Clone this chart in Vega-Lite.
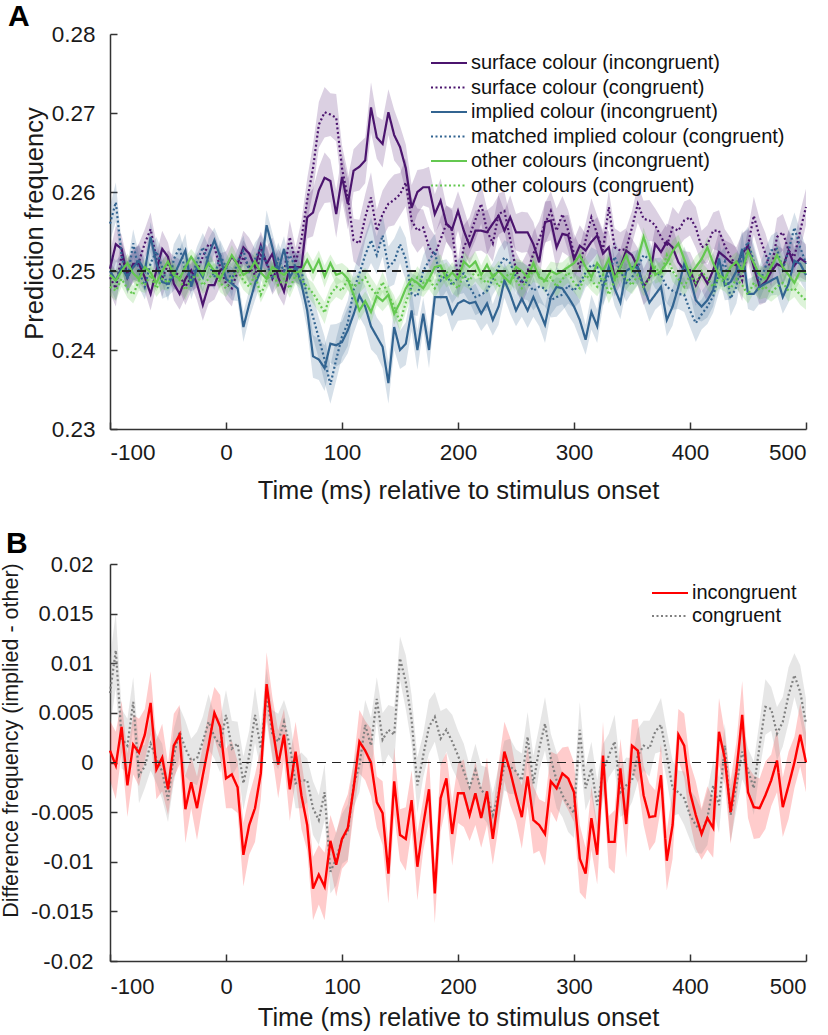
{
"$schema": "https://vega.github.io/schema/vega-lite/v6.json",
"background": "white",
"padding": {"left": 0, "top": 2, "right": 6, "bottom": 0},
"bounds": "flush",
"spacing": 135,
"config": {
  "font": "Liberation Sans",
  "view": {"stroke": null},
  "axis": {"labelFont": "Liberation Sans", "titleFont": "Liberation Sans", "labelFontSize": 22, "titleFontSize": 25.5, "titleFontWeight": "normal", "labelColor": "#1a1a1a", "titleColor": "#1a1a1a", "domainColor": "#333", "domainWidth": 1.5, "tickColor": "#333", "tickWidth": 1.5, "tickSize": -7, "grid": false},
  "legend": {"labelFont": "Liberation Sans", "labelFontSize": 20, "labelColor": "#111", "labelLimit": 0, "symbolType": "M-3,0H3", "symbolSize": 144, "symbolStrokeWidth": 2.2, "symbolOffset": 12, "labelOffset": 12, "rowPadding": 4.5, "padding": 0}
},
"resolve": {"scale": {"color": "independent", "strokeDash": "independent"}},
"datasets": {
"a": [
{"t":-100,"si":0.2503,"sc":0.2492,"ii":0.2500,"ic":0.2560,"oi":0.2495,"oc":0.2480,"p":0.0020,"b":0.0022,"g":0.0011},
{"t":-95,"si":0.2534,"sc":0.2478,"ii":0.2488,"ic":0.2587,"oi":0.2488,"oc":0.2475,"p":0.0023,"b":0.0025,"g":0.0013},
{"t":-90,"si":0.2528,"sc":0.2520,"ii":0.2505,"ic":0.2520,"oi":0.2500,"oc":0.2490,"p":0.0018,"b":0.0016,"g":0.0010},
{"t":-85,"si":0.2492,"sc":0.2495,"ii":0.2492,"ic":0.2490,"oi":0.2510,"oc":0.2478,"p":0.0021,"b":0.0019,"g":0.0012},
{"t":-80,"si":0.2509,"sc":0.2505,"ii":0.2505,"ic":0.2535,"oi":0.2497,"oc":0.2470,"p":0.0020,"b":0.0018,"g":0.0011},
{"t":-75,"si":0.2509,"sc":0.2512,"ii":0.2513,"ic":0.2500,"oi":0.2490,"oc":0.2488,"p":0.0023,"b":0.0021,"g":0.0013},
{"t":-70,"si":0.2492,"sc":0.2535,"ii":0.2500,"ic":0.2480,"oi":0.2505,"oc":0.2482,"p":0.0018,"b":0.0016,"g":0.0010},
{"t":-65,"si":0.2471,"sc":0.2553,"ii":0.2543,"ic":0.2510,"oi":0.2498,"oc":0.2495,"p":0.0021,"b":0.0019,"g":0.0012},
{"t":-60,"si":0.2501,"sc":0.2515,"ii":0.2510,"ic":0.2525,"oi":0.2485,"oc":0.2478,"p":0.0020,"b":0.0018,"g":0.0011},
{"t":-55,"si":0.2528,"sc":0.2490,"ii":0.2486,"ic":0.2505,"oi":0.2500,"oc":0.2490,"p":0.0023,"b":0.0021,"g":0.0013},
{"t":-50,"si":0.2518,"sc":0.2508,"ii":0.2484,"ic":0.2478,"oi":0.2512,"oc":0.2485,"p":0.0018,"b":0.0016,"g":0.0010},
{"t":-45,"si":0.2484,"sc":0.2498,"ii":0.2494,"ic":0.2515,"oi":0.2495,"oc":0.2500,"p":0.0021,"b":0.0019,"g":0.0012},
{"t":-40,"si":0.2471,"sc":0.2495,"ii":0.2510,"ic":0.2530,"oi":0.2490,"oc":0.2488,"p":0.0020,"b":0.0018,"g":0.0011},
{"t":-35,"si":0.2490,"sc":0.2480,"ii":0.2526,"ic":0.2500,"oi":0.2505,"oc":0.2476,"p":0.0023,"b":0.0021,"g":0.0013},
{"t":-30,"si":0.2501,"sc":0.2492,"ii":0.2480,"ic":0.2490,"oi":0.2518,"oc":0.2490,"p":0.0018,"b":0.0016,"g":0.0010},
{"t":-25,"si":0.2484,"sc":0.2500,"ii":0.2505,"ic":0.2512,"oi":0.2507,"oc":0.2495,"p":0.0021,"b":0.0019,"g":0.0012},
{"t":-20,"si":0.2457,"sc":0.2518,"ii":0.2492,"ic":0.2530,"oi":0.2495,"oc":0.2482,"p":0.0020,"b":0.0018,"g":0.0011},
{"t":-15,"si":0.2482,"sc":0.2534,"ii":0.2520,"ic":0.2510,"oi":0.2510,"oc":0.2490,"p":0.0023,"b":0.0021,"g":0.0013},
{"t":-10,"si":0.2482,"sc":0.2530,"ii":0.2539,"ic":0.2492,"oi":0.2500,"oc":0.2500,"p":0.0018,"b":0.0016,"g":0.0010},
{"t":-5,"si":0.2501,"sc":0.2505,"ii":0.2518,"ic":0.2520,"oi":0.2490,"oc":0.2485,"p":0.0021,"b":0.0019,"g":0.0012},
{"t":0,"si":0.2505,"sc":0.2484,"ii":0.2490,"ic":0.2505,"oi":0.2505,"oc":0.2478,"p":0.0020,"b":0.0018,"g":0.0011},
{"t":5,"si":0.2518,"sc":0.2478,"ii":0.2484,"ic":0.2488,"oi":0.2520,"oc":0.2492,"p":0.0023,"b":0.0021,"g":0.0013},
{"t":10,"si":0.2509,"sc":0.2500,"ii":0.2478,"ic":0.2512,"oi":0.2508,"oc":0.2500,"p":0.0018,"b":0.0016,"g":0.0010},
{"t":15,"si":0.2530,"sc":0.2518,"ii":0.2429,"ic":0.2526,"oi":0.2495,"oc":0.2488,"p":0.0021,"b":0.0019,"g":0.0012},
{"t":20,"si":0.2522,"sc":0.2505,"ii":0.2458,"ic":0.2500,"oi":0.2500,"oc":0.2480,"p":0.0020,"b":0.0018,"g":0.0011},
{"t":25,"si":0.2505,"sc":0.2495,"ii":0.2484,"ic":0.2515,"oi":0.2512,"oc":0.2495,"p":0.0023,"b":0.0021,"g":0.0013},
{"t":30,"si":0.2532,"sc":0.2520,"ii":0.2500,"ic":0.2530,"oi":0.2498,"oc":0.2470,"p":0.0018,"b":0.0016,"g":0.0010},
{"t":35,"si":0.2509,"sc":0.2512,"ii":0.2558,"ic":0.2510,"oi":0.2490,"oc":0.2488,"p":0.0021,"b":0.0019,"g":0.0012},
{"t":40,"si":0.2522,"sc":0.2490,"ii":0.2530,"ic":0.2490,"oi":0.2505,"oc":0.2500,"p":0.0020,"b":0.0018,"g":0.0011},
{"t":45,"si":0.2492,"sc":0.2505,"ii":0.2500,"ic":0.2515,"oi":0.2500,"oc":0.2482,"p":0.0023,"b":0.0021,"g":0.0013},
{"t":50,"si":0.2474,"sc":0.2498,"ii":0.2528,"ic":0.2500,"oi":0.2495,"oc":0.2490,"p":0.0018,"b":0.0016,"g":0.0010},
{"t":55,"si":0.2505,"sc":0.2543,"ii":0.2492,"ic":0.2520,"oi":0.2502,"oc":0.2478,"p":0.0021,"b":0.0019,"g":0.0012},
{"t":60,"si":0.2505,"sc":0.2510,"ii":0.2505,"ic":0.2505,"oi":0.2498,"oc":0.2495,"p":0.0020,"b":0.0018,"g":0.0011},
{"t":65,"si":0.2505,"sc":0.2540,"ii":0.2484,"ic":0.2500,"oi":0.2500,"oc":0.2489,"p":0.0023,"b":0.0021,"g":0.0013},
{"t":70,"si":0.2568,"sc":0.2590,"ii":0.2450,"ic":0.2468,"oi":0.2514,"oc":0.2480,"p":0.0027,"b":0.0024,"g":0.0011},
{"t":75,"si":0.2574,"sc":0.2630,"ii":0.2392,"ic":0.2442,"oi":0.2499,"oc":0.2472,"p":0.0030,"b":0.0027,"g":0.0013},
{"t":80,"si":0.2602,"sc":0.2685,"ii":0.2388,"ic":0.2415,"oi":0.2514,"oc":0.2460,"p":0.0029,"b":0.0026,"g":0.0012},
{"t":85,"si":0.2618,"sc":0.2701,"ii":0.2377,"ic":0.2388,"oi":0.2493,"oc":0.2447,"p":0.0032,"b":0.0029,"g":0.0014},
{"t":90,"si":0.2614,"sc":0.2698,"ii":0.2408,"ic":0.2356,"oi":0.2510,"oc":0.2470,"p":0.0027,"b":0.0024,"g":0.0011},
{"t":95,"si":0.2572,"sc":0.2694,"ii":0.2406,"ic":0.2388,"oi":0.2495,"oc":0.2480,"p":0.0030,"b":0.0027,"g":0.0013},
{"t":100,"si":0.2619,"sc":0.2630,"ii":0.2410,"ic":0.2417,"oi":0.2498,"oc":0.2475,"p":0.0029,"b":0.0026,"g":0.0012},
{"t":105,"si":0.2585,"sc":0.2593,"ii":0.2425,"ic":0.2434,"oi":0.2490,"oc":0.2490,"p":0.0032,"b":0.0029,"g":0.0014},
{"t":110,"si":0.2627,"sc":0.2539,"ii":0.2445,"ic":0.2476,"oi":0.2470,"oc":0.2480,"p":0.0027,"b":0.0024,"g":0.0011},
{"t":115,"si":0.2632,"sc":0.2535,"ii":0.2469,"ic":0.2497,"oi":0.2450,"oc":0.2485,"p":0.0030,"b":0.0027,"g":0.0013},
{"t":120,"si":0.2640,"sc":0.2568,"ii":0.2455,"ic":0.2520,"oi":0.2462,"oc":0.2492,"p":0.0029,"b":0.0026,"g":0.0012},
{"t":125,"si":0.2707,"sc":0.2593,"ii":0.2430,"ic":0.2539,"oi":0.2448,"oc":0.2478,"p":0.0032,"b":0.0029,"g":0.0014},
{"t":130,"si":0.2669,"sc":0.2551,"ii":0.2417,"ic":0.2520,"oi":0.2468,"oc":0.2470,"p":0.0027,"b":0.0024,"g":0.0011},
{"t":135,"si":0.2661,"sc":0.2572,"ii":0.2404,"ic":0.2545,"oi":0.2462,"oc":0.2486,"p":0.0030,"b":0.0027,"g":0.0013},
{"t":140,"si":0.2701,"sc":0.2585,"ii":0.2358,"ic":0.2505,"oi":0.2470,"oc":0.2470,"p":0.0029,"b":0.0026,"g":0.0012},
{"t":145,"si":0.2672,"sc":0.2590,"ii":0.2429,"ic":0.2512,"oi":0.2446,"oc":0.2455,"p":0.0032,"b":0.0029,"g":0.0014},
{"t":150,"si":0.2657,"sc":0.2597,"ii":0.2400,"ic":0.2534,"oi":0.2460,"oc":0.2435,"p":0.0027,"b":0.0024,"g":0.0011},
{"t":155,"si":0.2630,"sc":0.2612,"ii":0.2408,"ic":0.2515,"oi":0.2478,"oc":0.2460,"p":0.0030,"b":0.0027,"g":0.0013},
{"t":160,"si":0.2580,"sc":0.2564,"ii":0.2450,"ic":0.2471,"oi":0.2490,"oc":0.2480,"p":0.0029,"b":0.0026,"g":0.0012},
{"t":165,"si":0.2600,"sc":0.2551,"ii":0.2400,"ic":0.2468,"oi":0.2485,"oc":0.2492,"p":0.0028,"b":0.0025,"g":0.0014},
{"t":170,"si":0.2606,"sc":0.2555,"ii":0.2446,"ic":0.2500,"oi":0.2478,"oc":0.2485,"p":0.0023,"b":0.0020,"g":0.0011},
{"t":175,"si":0.2606,"sc":0.2530,"ii":0.2400,"ic":0.2513,"oi":0.2490,"oc":0.2490,"p":0.0026,"b":0.0023,"g":0.0013},
{"t":180,"si":0.2572,"sc":0.2520,"ii":0.2467,"ic":0.2525,"oi":0.2505,"oc":0.2478,"p":0.0025,"b":0.0022,"g":0.0012},
{"t":185,"si":0.2589,"sc":0.2540,"ii":0.2467,"ic":0.2488,"oi":0.2507,"oc":0.2492,"p":0.0028,"b":0.0025,"g":0.0014},
{"t":190,"si":0.2560,"sc":0.2560,"ii":0.2467,"ic":0.2495,"oi":0.2490,"oc":0.2500,"p":0.0023,"b":0.0020,"g":0.0011},
{"t":195,"si":0.2553,"sc":0.2551,"ii":0.2446,"ic":0.2482,"oi":0.2498,"oc":0.2485,"p":0.0026,"b":0.0023,"g":0.0013},
{"t":200,"si":0.2576,"sc":0.2490,"ii":0.2459,"ic":0.2492,"oi":0.2490,"oc":0.2478,"p":0.0025,"b":0.0022,"g":0.0012},
{"t":205,"si":0.2551,"sc":0.2530,"ii":0.2463,"ic":0.2497,"oi":0.2512,"oc":0.2495,"p":0.0028,"b":0.0025,"g":0.0014},
{"t":210,"si":0.2532,"sc":0.2545,"ii":0.2459,"ic":0.2480,"oi":0.2505,"oc":0.2488,"p":0.0023,"b":0.0020,"g":0.0011},
{"t":215,"si":0.2551,"sc":0.2565,"ii":0.2461,"ic":0.2467,"oi":0.2512,"oc":0.2500,"p":0.0026,"b":0.0023,"g":0.0013},
{"t":220,"si":0.2551,"sc":0.2585,"ii":0.2446,"ic":0.2470,"oi":0.2495,"oc":0.2490,"p":0.0025,"b":0.0022,"g":0.0012},
{"t":225,"si":0.2549,"sc":0.2551,"ii":0.2459,"ic":0.2475,"oi":0.2508,"oc":0.2485,"p":0.0028,"b":0.0025,"g":0.0014},
{"t":230,"si":0.2560,"sc":0.2535,"ii":0.2438,"ic":0.2490,"oi":0.2492,"oc":0.2495,"p":0.0023,"b":0.0020,"g":0.0011},
{"t":235,"si":0.2570,"sc":0.2572,"ii":0.2455,"ic":0.2505,"oi":0.2500,"oc":0.2480,"p":0.0026,"b":0.0023,"g":0.0013},
{"t":240,"si":0.2551,"sc":0.2576,"ii":0.2488,"ic":0.2517,"oi":0.2492,"oc":0.2492,"p":0.0025,"b":0.0022,"g":0.0012},
{"t":245,"si":0.2568,"sc":0.2540,"ii":0.2471,"ic":0.2510,"oi":0.2485,"oc":0.2497,"p":0.0028,"b":0.0025,"g":0.0014},
{"t":250,"si":0.2549,"sc":0.2501,"ii":0.2450,"ic":0.2492,"oi":0.2505,"oc":0.2488,"p":0.0023,"b":0.0020,"g":0.0011},
{"t":255,"si":0.2549,"sc":0.2484,"ii":0.2465,"ic":0.2488,"oi":0.2500,"oc":0.2478,"p":0.0026,"b":0.0023,"g":0.0013},
{"t":260,"si":0.2549,"sc":0.2500,"ii":0.2450,"ic":0.2485,"oi":0.2492,"oc":0.2490,"p":0.0025,"b":0.0022,"g":0.0012},
{"t":265,"si":0.2534,"sc":0.2522,"ii":0.2467,"ic":0.2475,"oi":0.2510,"oc":0.2500,"p":0.0028,"b":0.0025,"g":0.0014},
{"t":270,"si":0.2511,"sc":0.2540,"ii":0.2450,"ic":0.2480,"oi":0.2492,"oc":0.2495,"p":0.0023,"b":0.0020,"g":0.0011},
{"t":275,"si":0.2562,"sc":0.2560,"ii":0.2432,"ic":0.2478,"oi":0.2488,"oc":0.2485,"p":0.0026,"b":0.0023,"g":0.0013},
{"t":280,"si":0.2564,"sc":0.2576,"ii":0.2467,"ic":0.2463,"oi":0.2500,"oc":0.2492,"p":0.0025,"b":0.0022,"g":0.0012},
{"t":285,"si":0.2530,"sc":0.2551,"ii":0.2480,"ic":0.2467,"oi":0.2496,"oc":0.2480,"p":0.0028,"b":0.0025,"g":0.0014},
{"t":290,"si":0.2547,"sc":0.2572,"ii":0.2478,"ic":0.2470,"oi":0.2500,"oc":0.2490,"p":0.0023,"b":0.0020,"g":0.0011},
{"t":295,"si":0.2545,"sc":0.2551,"ii":0.2467,"ic":0.2482,"oi":0.2505,"oc":0.2498,"p":0.0026,"b":0.0023,"g":0.0013},
{"t":300,"si":0.2515,"sc":0.2522,"ii":0.2455,"ic":0.2475,"oi":0.2510,"oc":0.2485,"p":0.0025,"b":0.0022,"g":0.0012},
{"t":305,"si":0.2532,"sc":0.2505,"ii":0.2438,"ic":0.2485,"oi":0.2520,"oc":0.2478,"p":0.0026,"b":0.0024,"g":0.0014},
{"t":310,"si":0.2526,"sc":0.2539,"ii":0.2413,"ic":0.2498,"oi":0.2505,"oc":0.2495,"p":0.0021,"b":0.0019,"g":0.0011},
{"t":315,"si":0.2537,"sc":0.2568,"ii":0.2448,"ic":0.2508,"oi":0.2492,"oc":0.2488,"p":0.0024,"b":0.0022,"g":0.0013},
{"t":320,"si":0.2545,"sc":0.2547,"ii":0.2430,"ic":0.2505,"oi":0.2510,"oc":0.2480,"p":0.0023,"b":0.0021,"g":0.0012},
{"t":325,"si":0.2522,"sc":0.2526,"ii":0.2480,"ic":0.2480,"oi":0.2500,"oc":0.2495,"p":0.0026,"b":0.0024,"g":0.0014},
{"t":330,"si":0.2530,"sc":0.2581,"ii":0.2505,"ic":0.2495,"oi":0.2515,"oc":0.2470,"p":0.0021,"b":0.0019,"g":0.0011},
{"t":335,"si":0.2492,"sc":0.2530,"ii":0.2478,"ic":0.2518,"oi":0.2490,"oc":0.2488,"p":0.0024,"b":0.0022,"g":0.0013},
{"t":340,"si":0.2505,"sc":0.2526,"ii":0.2460,"ic":0.2500,"oi":0.2505,"oc":0.2500,"p":0.0023,"b":0.0021,"g":0.0012},
{"t":345,"si":0.2526,"sc":0.2528,"ii":0.2500,"ic":0.2485,"oi":0.2520,"oc":0.2490,"p":0.0026,"b":0.0024,"g":0.0014},
{"t":350,"si":0.2520,"sc":0.2555,"ii":0.2505,"ic":0.2492,"oi":0.2500,"oc":0.2482,"p":0.0021,"b":0.0019,"g":0.0011},
{"t":355,"si":0.2505,"sc":0.2585,"ii":0.2505,"ic":0.2505,"oi":0.2515,"oc":0.2495,"p":0.0024,"b":0.0022,"g":0.0013},
{"t":360,"si":0.2480,"sc":0.2566,"ii":0.2480,"ic":0.2520,"oi":0.2543,"oc":0.2480,"p":0.0023,"b":0.0021,"g":0.0012},
{"t":365,"si":0.2492,"sc":0.2564,"ii":0.2460,"ic":0.2515,"oi":0.2520,"oc":0.2490,"p":0.0026,"b":0.0024,"g":0.0014},
{"t":370,"si":0.2534,"sc":0.2558,"ii":0.2470,"ic":0.2497,"oi":0.2495,"oc":0.2505,"p":0.0021,"b":0.0019,"g":0.0011},
{"t":375,"si":0.2524,"sc":0.2543,"ii":0.2480,"ic":0.2495,"oi":0.2500,"oc":0.2495,"p":0.0024,"b":0.0022,"g":0.0013},
{"t":380,"si":0.2537,"sc":0.2532,"ii":0.2438,"ic":0.2480,"oi":0.2510,"oc":0.2520,"p":0.0023,"b":0.0021,"g":0.0012},
{"t":385,"si":0.2530,"sc":0.2555,"ii":0.2455,"ic":0.2475,"oi":0.2525,"oc":0.2500,"p":0.0026,"b":0.0024,"g":0.0014},
{"t":390,"si":0.2511,"sc":0.2551,"ii":0.2480,"ic":0.2471,"oi":0.2535,"oc":0.2490,"p":0.0021,"b":0.0019,"g":0.0011},
{"t":395,"si":0.2501,"sc":0.2564,"ii":0.2509,"ic":0.2470,"oi":0.2515,"oc":0.2480,"p":0.0024,"b":0.0022,"g":0.0013},
{"t":400,"si":0.2501,"sc":0.2568,"ii":0.2492,"ic":0.2450,"oi":0.2495,"oc":0.2495,"p":0.0023,"b":0.0021,"g":0.0012},
{"t":405,"si":0.2482,"sc":0.2555,"ii":0.2463,"ic":0.2434,"oi":0.2505,"oc":0.2485,"p":0.0026,"b":0.0024,"g":0.0014},
{"t":410,"si":0.2497,"sc":0.2530,"ii":0.2455,"ic":0.2445,"oi":0.2515,"oc":0.2500,"p":0.0021,"b":0.0019,"g":0.0011},
{"t":415,"si":0.2484,"sc":0.2534,"ii":0.2463,"ic":0.2455,"oi":0.2530,"oc":0.2490,"p":0.0024,"b":0.0022,"g":0.0013},
{"t":420,"si":0.2501,"sc":0.2551,"ii":0.2476,"ic":0.2468,"oi":0.2510,"oc":0.2480,"p":0.0023,"b":0.0021,"g":0.0012},
{"t":425,"si":0.2524,"sc":0.2551,"ii":0.2516,"ic":0.2497,"oi":0.2495,"oc":0.2492,"p":0.0026,"b":0.0024,"g":0.0014},
{"t":430,"si":0.2518,"sc":0.2532,"ii":0.2482,"ic":0.2512,"oi":0.2490,"oc":0.2485,"p":0.0021,"b":0.0019,"g":0.0011},
{"t":435,"si":0.2511,"sc":0.2518,"ii":0.2486,"ic":0.2465,"oi":0.2505,"oc":0.2478,"p":0.0024,"b":0.0022,"g":0.0013},
{"t":440,"si":0.2507,"sc":0.2505,"ii":0.2500,"ic":0.2480,"oi":0.2512,"oc":0.2490,"p":0.0023,"b":0.0021,"g":0.0012},
{"t":445,"si":0.2522,"sc":0.2488,"ii":0.2528,"ic":0.2522,"oi":0.2500,"oc":0.2482,"p":0.0026,"b":0.0024,"g":0.0014},
{"t":450,"si":0.2532,"sc":0.2532,"ii":0.2471,"ic":0.2537,"oi":0.2525,"oc":0.2470,"p":0.0021,"b":0.0019,"g":0.0011},
{"t":455,"si":0.2505,"sc":0.2570,"ii":0.2471,"ic":0.2512,"oi":0.2510,"oc":0.2485,"p":0.0024,"b":0.0022,"g":0.0013},
{"t":460,"si":0.2480,"sc":0.2543,"ii":0.2480,"ic":0.2485,"oi":0.2495,"oc":0.2476,"p":0.0023,"b":0.0021,"g":0.0012},
{"t":465,"si":0.2486,"sc":0.2522,"ii":0.2484,"ic":0.2505,"oi":0.2490,"oc":0.2480,"p":0.0026,"b":0.0024,"g":0.0014},
{"t":470,"si":0.2499,"sc":0.2501,"ii":0.2488,"ic":0.2526,"oi":0.2505,"oc":0.2472,"p":0.0021,"b":0.0019,"g":0.0011},
{"t":475,"si":0.2509,"sc":0.2543,"ii":0.2492,"ic":0.2528,"oi":0.2520,"oc":0.2480,"p":0.0024,"b":0.0022,"g":0.0013},
{"t":480,"si":0.2505,"sc":0.2549,"ii":0.2467,"ic":0.2502,"oi":0.2505,"oc":0.2485,"p":0.0023,"b":0.0021,"g":0.0012},
{"t":485,"si":0.2526,"sc":0.2526,"ii":0.2484,"ic":0.2526,"oi":0.2495,"oc":0.2475,"p":0.0026,"b":0.0024,"g":0.0014},
{"t":490,"si":0.2507,"sc":0.2518,"ii":0.2513,"ic":0.2555,"oi":0.2485,"oc":0.2478,"p":0.0021,"b":0.0019,"g":0.0011},
{"t":495,"si":0.2516,"sc":0.2551,"ii":0.2509,"ic":0.2530,"oi":0.2500,"oc":0.2470,"p":0.0024,"b":0.0022,"g":0.0013},
{"t":500,"si":0.2511,"sc":0.2581,"ii":0.2495,"ic":0.2509,"oi":0.2498,"oc":0.2463,"p":0.0023,"b":0.0021,"g":0.0012}
],
"b": [
{"t":-100,"r":0.0012,"c":0.0070,"er":0.0030,"ec":0.0035},
{"t":-95,"r":-0.0003,"c":0.0113,"er":0.0034,"ec":0.0038},
{"t":-90,"r":0.0036,"c":0.0024,"er":0.0026,"ec":0.0030},
{"t":-85,"r":-0.0023,"c":0.0017,"er":0.0032,"ec":0.0027},
{"t":-80,"r":0.0018,"c":0.0061,"er":0.0030,"ec":0.0025},
{"t":-75,"r":0.0010,"c":-0.0013,"er":0.0034,"ec":0.0028},
{"t":-70,"r":0.0028,"c":-0.0004,"er":0.0026,"ec":0.0022},
{"t":-65,"r":0.0060,"c":0.0019,"er":0.0032,"ec":0.0027},
{"t":-60,"r":-0.0007,"c":0.0004,"er":0.0030,"ec":0.0025},
{"t":-55,"r":0.0005,"c":-0.0009,"er":0.0034,"ec":0.0028},
{"t":-50,"r":-0.0027,"c":-0.0038,"er":0.0026,"ec":0.0022},
{"t":-45,"r":0.0017,"c":0.0007,"er":0.0032,"ec":0.0027},
{"t":-40,"r":0.0028,"c":0.0031,"er":0.0030,"ec":0.0025},
{"t":-35,"r":-0.0047,"c":0.0014,"er":0.0034,"ec":0.0028},
{"t":-30,"r":-0.0020,"c":0.0002,"er":0.0026,"ec":0.0022},
{"t":-25,"r":-0.0046,"c":0.0004,"er":0.0032,"ec":0.0027},
{"t":-20,"r":-0.0013,"c":0.0021,"er":0.0030,"ec":0.0025},
{"t":-15,"r":0.0017,"c":0.0041,"er":0.0034,"ec":0.0028},
{"t":-10,"r":0.0050,"c":0.0026,"er":0.0026,"ec":0.0022},
{"t":-5,"r":0.0036,"c":0.0017,"er":0.0032,"ec":0.0027},
{"t":0,"r":-0.0016,"c":0.0048,"er":0.0030,"ec":0.0025},
{"t":5,"r":-0.0012,"c":0.0014,"er":0.0034,"ec":0.0028},
{"t":10,"r":-0.0025,"c":0.0019,"er":0.0026,"ec":0.0022},
{"t":15,"r":-0.0093,"c":-0.0021,"er":0.0032,"ec":0.0027},
{"t":20,"r":-0.0063,"c":0.0007,"er":0.0030,"ec":0.0025},
{"t":25,"r":-0.0046,"c":0.0048,"er":0.0034,"ec":0.0028},
{"t":30,"r":-0.0011,"c":0.0014,"er":0.0026,"ec":0.0022},
{"t":35,"r":0.0079,"c":0.0068,"er":0.0032,"ec":0.0027},
{"t":40,"r":0.0036,"c":0.0028,"er":0.0030,"ec":0.0025},
{"t":45,"r":-0.0002,"c":0.0021,"er":0.0034,"ec":0.0028},
{"t":50,"r":0.0028,"c":0.0041,"er":0.0026,"ec":0.0022},
{"t":55,"r":-0.0027,"c":0.0017,"er":0.0032,"ec":0.0027},
{"t":60,"r":0.0011,"c":-0.0021,"er":0.0030,"ec":0.0025},
{"t":65,"r":-0.0033,"c":-0.0018,"er":0.0034,"ec":0.0028},
{"t":70,"r":-0.0063,"c":-0.0018,"er":0.0026,"ec":0.0022},
{"t":75,"r":-0.0127,"c":-0.0046,"er":0.0032,"ec":0.0027},
{"t":80,"r":-0.0113,"c":-0.0058,"er":0.0030,"ec":0.0025},
{"t":85,"r":-0.0125,"c":-0.0030,"er":0.0034,"ec":0.0028},
{"t":90,"r":-0.0079,"c":-0.0110,"er":0.0026,"ec":0.0022},
{"t":95,"r":-0.0103,"c":-0.0097,"er":0.0032,"ec":0.0027},
{"t":100,"r":-0.0077,"c":-0.0077,"er":0.0030,"ec":0.0025},
{"t":105,"r":-0.0066,"c":-0.0070,"er":0.0034,"ec":0.0028},
{"t":110,"r":-0.0026,"c":-0.0023,"er":0.0026,"ec":0.0022},
{"t":115,"r":0.0021,"c":-0.0003,"er":0.0032,"ec":0.0027},
{"t":120,"r":0.0012,"c":0.0038,"er":0.0030,"ec":0.0025},
{"t":125,"r":0.0000,"c":0.0017,"er":0.0034,"ec":0.0028},
{"t":130,"r":-0.0040,"c":0.0064,"er":0.0026,"ec":0.0022},
{"t":135,"r":-0.0051,"c":0.0023,"er":0.0032,"ec":0.0027},
{"t":140,"r":-0.0112,"c":0.0033,"er":0.0030,"ec":0.0025},
{"t":145,"r":-0.0019,"c":0.0028,"er":0.0034,"ec":0.0028},
{"t":150,"r":-0.0073,"c":0.0105,"er":0.0026,"ec":0.0022},
{"t":155,"r":-0.0077,"c":0.0081,"er":0.0032,"ec":0.0027},
{"t":160,"r":-0.0038,"c":0.0043,"er":0.0030,"ec":0.0025},
{"t":165,"r":-0.0105,"c":-0.0023,"er":0.0034,"ec":0.0028},
{"t":170,"r":-0.0063,"c":0.0007,"er":0.0026,"ec":0.0022},
{"t":175,"r":-0.0027,"c":0.0036,"er":0.0032,"ec":0.0027},
{"t":180,"r":-0.0132,"c":0.0046,"er":0.0030,"ec":0.0025},
{"t":185,"r":-0.0036,"c":0.0024,"er":0.0034,"ec":0.0028},
{"t":190,"r":-0.0016,"c":0.0033,"er":0.0026,"ec":0.0022},
{"t":195,"r":-0.0072,"c":0.0021,"er":0.0032,"ec":0.0027},
{"t":200,"r":-0.0031,"c":0.0007,"er":0.0030,"ec":0.0025},
{"t":205,"r":-0.0031,"c":-0.0009,"er":0.0034,"ec":0.0028},
{"t":210,"r":-0.0053,"c":-0.0025,"er":0.0026,"ec":0.0022},
{"t":215,"r":-0.0031,"c":-0.0008,"er":0.0032,"ec":0.0027},
{"t":220,"r":-0.0056,"c":-0.0028,"er":0.0030,"ec":0.0025},
{"t":225,"r":-0.0029,"c":-0.0033,"er":0.0034,"ec":0.0028},
{"t":230,"r":-0.0077,"c":-0.0053,"er":0.0026,"ec":0.0022},
{"t":235,"r":-0.0033,"c":-0.0031,"er":0.0032,"ec":0.0027},
{"t":240,"r":0.0011,"c":-0.0003,"er":0.0030,"ec":0.0025},
{"t":245,"r":-0.0009,"c":-0.0004,"er":0.0034,"ec":0.0028},
{"t":250,"r":-0.0033,"c":-0.0009,"er":0.0026,"ec":0.0022},
{"t":255,"r":-0.0055,"c":-0.0018,"er":0.0032,"ec":0.0027},
{"t":260,"r":-0.0014,"c":0.0026,"er":0.0030,"ec":0.0025},
{"t":265,"r":-0.0058,"c":-0.0021,"er":0.0034,"ec":0.0028},
{"t":270,"r":-0.0063,"c":0.0014,"er":0.0026,"ec":0.0022},
{"t":275,"r":-0.0072,"c":0.0039,"er":0.0032,"ec":0.0027},
{"t":280,"r":-0.0019,"c":0.0004,"er":0.0030,"ec":0.0025},
{"t":285,"r":-0.0026,"c":-0.0018,"er":0.0034,"ec":0.0028},
{"t":290,"r":-0.0011,"c":-0.0033,"er":0.0026,"ec":0.0022},
{"t":295,"r":-0.0016,"c":-0.0043,"er":0.0032,"ec":0.0027},
{"t":300,"r":-0.0030,"c":-0.0051,"er":0.0030,"ec":0.0025},
{"t":305,"r":-0.0097,"c":0.0033,"er":0.0034,"ec":0.0028},
{"t":310,"r":-0.0112,"c":-0.0026,"er":0.0026,"ec":0.0022},
{"t":315,"r":-0.0056,"c":-0.0006,"er":0.0032,"ec":0.0027},
{"t":320,"r":-0.0093,"c":-0.0043,"er":0.0030,"ec":0.0025},
{"t":325,"r":0.0007,"c":-0.0009,"er":0.0034,"ec":0.0028},
{"t":330,"r":-0.0080,"c":0.0007,"er":0.0026,"ec":0.0022},
{"t":335,"r":-0.0080,"c":0.0021,"er":0.0032,"ec":0.0027},
{"t":340,"r":-0.0006,"c":-0.0030,"er":0.0030,"ec":0.0025},
{"t":345,"r":-0.0062,"c":-0.0023,"er":0.0034,"ec":0.0028},
{"t":350,"r":0.0017,"c":-0.0018,"er":0.0026,"ec":0.0022},
{"t":355,"r":0.0012,"c":0.0007,"er":0.0032,"ec":0.0027},
{"t":360,"r":-0.0033,"c":0.0017,"er":0.0030,"ec":0.0025},
{"t":365,"r":-0.0055,"c":0.0014,"er":0.0034,"ec":0.0028},
{"t":370,"r":-0.0054,"c":0.0031,"er":0.0026,"ec":0.0022},
{"t":375,"r":-0.0013,"c":0.0038,"er":0.0032,"ec":0.0027},
{"t":380,"r":-0.0099,"c":0.0007,"er":0.0030,"ec":0.0025},
{"t":385,"r":-0.0063,"c":-0.0026,"er":0.0034,"ec":0.0028},
{"t":390,"r":0.0028,"c":-0.0030,"er":0.0026,"ec":0.0022},
{"t":395,"r":0.0017,"c":-0.0036,"er":0.0032,"ec":0.0027},
{"t":400,"r":-0.0030,"c":-0.0053,"er":0.0030,"ec":0.0025},
{"t":405,"r":-0.0053,"c":-0.0063,"er":0.0034,"ec":0.0028},
{"t":410,"r":-0.0072,"c":-0.0070,"er":0.0026,"ec":0.0022},
{"t":415,"r":-0.0056,"c":-0.0056,"er":0.0032,"ec":0.0027},
{"t":420,"r":-0.0066,"c":-0.0023,"er":0.0030,"ec":0.0025},
{"t":425,"r":0.0031,"c":-0.0043,"er":0.0034,"ec":0.0028},
{"t":430,"r":0.0004,"c":0.0017,"er":0.0026,"ec":0.0022},
{"t":435,"r":-0.0050,"c":-0.0053,"er":0.0032,"ec":0.0027},
{"t":440,"r":-0.0009,"c":-0.0023,"er":0.0030,"ec":0.0025},
{"t":445,"r":0.0048,"c":0.0011,"er":0.0034,"ec":0.0028},
{"t":450,"r":-0.0030,"c":-0.0008,"er":0.0026,"ec":0.0022},
{"t":455,"r":-0.0045,"c":-0.0026,"er":0.0032,"ec":0.0027},
{"t":460,"r":-0.0046,"c":0.0017,"er":0.0030,"ec":0.0025},
{"t":465,"r":-0.0033,"c":0.0056,"er":0.0034,"ec":0.0028},
{"t":470,"r":-0.0018,"c":0.0054,"er":0.0026,"ec":0.0022},
{"t":475,"r":0.0002,"c":0.0029,"er":0.0032,"ec":0.0027},
{"t":480,"r":-0.0045,"c":0.0041,"er":0.0030,"ec":0.0025},
{"t":485,"r":-0.0023,"c":0.0068,"er":0.0034,"ec":0.0028},
{"t":490,"r":0.0000,"c":0.0088,"er":0.0026,"ec":0.0022},
{"t":495,"r":0.0028,"c":0.0071,"er":0.0032,"ec":0.0027},
{"t":500,"r":0.0000,"c":0.0039,"er":0.0030,"ec":0.0025}
]
},
"vconcat": [
{
  "width": 696, "height": 395,
  "title": {"text": "A", "anchor": "start", "frame": "group", "dx": -102, "offset": -9, "fontSize": 30, "fontWeight": "bold", "color": "#000"},
  "data": {"name": "a"},
  "layer": [
    {"mark": {"type": "errorband", "color": "#4b146e", "opacity": 0.2}, "encoding": {"x": {"field": "t", "type": "quantitative", "title": "Time (ms) relative to stimulus onset", "scale": {"domain": [-100, 500], "nice": false}, "axis": {"values": [-100, 0, 100, 200, 300, 400, 500], "labelExpr": "replace(datum.label, '\u2212', '-')", "labelFontSize": 22.5, "titleFontSize": 25.5, "labelPadding": 19, "titlePadding": 15}}, "y": {"field": "si", "type": "quantitative", "title": "Prediction frequency", "scale": {"domain": [0.23, 0.28], "nice": false}, "axis": {"values": [0.23, 0.24, 0.25, 0.26, 0.27, 0.28], "format": ".2f", "labelFontSize": 22.5, "titleFontSize": 25.5, "labelPadding": 22, "titlePadding": 4, "titleY": 189}}, "yError": {"field": "p"}}},
    {"mark": {"type": "errorband", "color": "#4b146e", "opacity": 0.2}, "encoding": {"x": {"field": "t", "type": "quantitative", "title": "Time (ms) relative to stimulus onset"}, "y": {"field": "sc", "type": "quantitative", "title": "Prediction frequency", "scale": {"domain": [0.23, 0.28], "nice": false}}, "yError": {"field": "p"}}},
    {"mark": {"type": "errorband", "color": "#326491", "opacity": 0.2}, "encoding": {"x": {"field": "t", "type": "quantitative", "title": "Time (ms) relative to stimulus onset"}, "y": {"field": "ii", "type": "quantitative", "title": "Prediction frequency", "scale": {"domain": [0.23, 0.28], "nice": false}}, "yError": {"field": "b"}}},
    {"mark": {"type": "errorband", "color": "#326491", "opacity": 0.2}, "encoding": {"x": {"field": "t", "type": "quantitative", "title": "Time (ms) relative to stimulus onset"}, "y": {"field": "ic", "type": "quantitative", "title": "Prediction frequency", "scale": {"domain": [0.23, 0.28], "nice": false}}, "yError": {"field": "b"}}},
    {"mark": {"type": "errorband", "color": "#64c850", "opacity": 0.22}, "encoding": {"x": {"field": "t", "type": "quantitative", "title": "Time (ms) relative to stimulus onset"}, "y": {"field": "oi", "type": "quantitative", "title": "Prediction frequency", "scale": {"domain": [0.23, 0.28], "nice": false}}, "yError": {"field": "g"}}},
    {"mark": {"type": "errorband", "color": "#64c850", "opacity": 0.22}, "encoding": {"x": {"field": "t", "type": "quantitative", "title": "Time (ms) relative to stimulus onset"}, "y": {"field": "oc", "type": "quantitative", "title": "Prediction frequency", "scale": {"domain": [0.23, 0.28], "nice": false}}, "yError": {"field": "g"}}},
    {"mark": {"type": "line", "strokeWidth": 2.2}, "encoding": {"x": {"field": "t", "type": "quantitative", "title": "Time (ms) relative to stimulus onset"}, "y": {"field": "si", "type": "quantitative", "title": "Prediction frequency", "scale": {"domain": [0.23, 0.28], "nice": false}},
      "color": {"datum": "surface colour (incongruent)", "type": "nominal", "scale": {"domain": ["surface colour (incongruent)", "surface colour (congruent)", "implied colour (incongruent)", "matched implied colour (congruent)", "other colours (incongruent)", "other colours (congruent)"], "range": ["#4b146e", "#4b146e", "#326491", "#326491", "#64c850", "#64c850"]}, "legend": {"title": null, "orient": "none", "legendX": 317, "legendY": 19}},
      "strokeDash": {"datum": "surface colour (incongruent)", "type": "nominal", "scale": {"domain": ["surface colour (incongruent)", "surface colour (congruent)", "implied colour (incongruent)", "matched implied colour (congruent)", "other colours (incongruent)", "other colours (congruent)"], "range": [[1, 0], [2, 2.5], [1, 0], [2, 2.5], [1, 0], [2, 2.5]]}, "legend": {"title": null, "orient": "none", "legendX": 317, "legendY": 19}}}},
    {"mark": {"type": "line", "strokeWidth": 2.2}, "encoding": {"x": {"field": "t", "type": "quantitative", "title": "Time (ms) relative to stimulus onset"}, "y": {"field": "sc", "type": "quantitative", "title": "Prediction frequency", "scale": {"domain": [0.23, 0.28], "nice": false}},
      "color": {"datum": "surface colour (congruent)", "type": "nominal"}, "strokeDash": {"datum": "surface colour (congruent)", "type": "nominal"}}},
    {"mark": {"type": "line", "strokeWidth": 2.2}, "encoding": {"x": {"field": "t", "type": "quantitative", "title": "Time (ms) relative to stimulus onset"}, "y": {"field": "ii", "type": "quantitative", "title": "Prediction frequency", "scale": {"domain": [0.23, 0.28], "nice": false}},
      "color": {"datum": "implied colour (incongruent)", "type": "nominal"}, "strokeDash": {"datum": "implied colour (incongruent)", "type": "nominal"}}},
    {"mark": {"type": "line", "strokeWidth": 2.2}, "encoding": {"x": {"field": "t", "type": "quantitative", "title": "Time (ms) relative to stimulus onset"}, "y": {"field": "ic", "type": "quantitative", "title": "Prediction frequency", "scale": {"domain": [0.23, 0.28], "nice": false}},
      "color": {"datum": "matched implied colour (congruent)", "type": "nominal"}, "strokeDash": {"datum": "matched implied colour (congruent)", "type": "nominal"}}},
    {"mark": {"type": "line", "strokeWidth": 2.2}, "encoding": {"x": {"field": "t", "type": "quantitative", "title": "Time (ms) relative to stimulus onset"}, "y": {"field": "oi", "type": "quantitative", "title": "Prediction frequency", "scale": {"domain": [0.23, 0.28], "nice": false}},
      "color": {"datum": "other colours (incongruent)", "type": "nominal"}, "strokeDash": {"datum": "other colours (incongruent)", "type": "nominal"}}},
    {"mark": {"type": "line", "strokeWidth": 2.2}, "encoding": {"x": {"field": "t", "type": "quantitative", "title": "Time (ms) relative to stimulus onset"}, "y": {"field": "oc", "type": "quantitative", "title": "Prediction frequency", "scale": {"domain": [0.23, 0.28], "nice": false}},
      "color": {"datum": "other colours (congruent)", "type": "nominal"}, "strokeDash": {"datum": "other colours (congruent)", "type": "nominal"}}},
    {"mark": {"type": "rule", "color": "#222", "strokeWidth": 1.2, "strokeDash": [9, 6]}, "encoding": {"y": {"datum": 0.25}}}
  ]
},
{
  "width": 696, "height": 397,
  "title": {"text": "B", "anchor": "start", "frame": "group", "dx": -104, "offset": -6, "fontSize": 30, "fontWeight": "bold", "color": "#000"},
  "data": {"name": "b"},
  "layer": [
    {"mark": {"type": "errorband", "color": "#ff0000", "opacity": 0.2}, "encoding": {"x": {"field": "t", "type": "quantitative", "title": "Time (ms) relative to stimulus onset", "scale": {"domain": [-100, 500], "nice": false}, "axis": {"values": [-100, 0, 100, 200, 300, 400, 500], "labelExpr": "replace(datum.label, '\u2212', '-')", "labelFontSize": 22, "titleFontSize": 25.5, "labelPadding": 22, "titlePadding": 8}}, "y": {"field": "r", "type": "quantitative", "title": "Difference frequency (implied - other)", "scale": {"domain": [-0.02, 0.02], "nice": false}, "axis": {"values": [-0.02, -0.015, -0.01, -0.005, 0, 0.005, 0.01, 0.015, 0.02], "format": "~g", "labelExpr": "replace(datum.label, '\u2212', '-')", "labelFontSize": 22, "titleFontSize": 21.5, "labelPadding": 24, "titlePadding": 8, "titleY": 176}}, "yError": {"field": "er"}}},
    {"mark": {"type": "errorband", "color": "#8c8c8c", "opacity": 0.22}, "encoding": {"x": {"field": "t", "type": "quantitative", "title": "Time (ms) relative to stimulus onset"}, "y": {"field": "c", "type": "quantitative", "title": "Difference frequency (implied - other)", "scale": {"domain": [-0.02, 0.02], "nice": false}}, "yError": {"field": "ec"}}},
    {"mark": {"type": "line", "strokeWidth": 2.2}, "encoding": {"x": {"field": "t", "type": "quantitative", "title": "Time (ms) relative to stimulus onset"}, "y": {"field": "c", "type": "quantitative", "title": "Difference frequency (implied - other)", "scale": {"domain": [-0.02, 0.02], "nice": false}},
      "color": {"datum": "congruent", "type": "nominal", "scale": {"domain": ["incongruent", "congruent"], "range": ["#ff0000", "#808080"]}, "legend": {"title": null, "orient": "none", "legendX": 538, "legendY": 19, "rowPadding": 3}},
      "strokeDash": {"datum": "congruent", "type": "nominal", "scale": {"domain": ["incongruent", "congruent"], "range": [[1, 0], [2, 2.5]]}, "legend": {"title": null, "orient": "none", "legendX": 538, "legendY": 19, "rowPadding": 3}}}},
    {"mark": {"type": "line", "strokeWidth": 2.4}, "encoding": {"x": {"field": "t", "type": "quantitative", "title": "Time (ms) relative to stimulus onset"}, "y": {"field": "r", "type": "quantitative", "title": "Difference frequency (implied - other)", "scale": {"domain": [-0.02, 0.02], "nice": false}},
      "color": {"datum": "incongruent", "type": "nominal"}, "strokeDash": {"datum": "incongruent", "type": "nominal"}}},
    {"mark": {"type": "rule", "color": "#222", "strokeWidth": 1.2, "strokeDash": [9, 6]}, "encoding": {"y": {"datum": 0}}}
  ]
}
]
}
